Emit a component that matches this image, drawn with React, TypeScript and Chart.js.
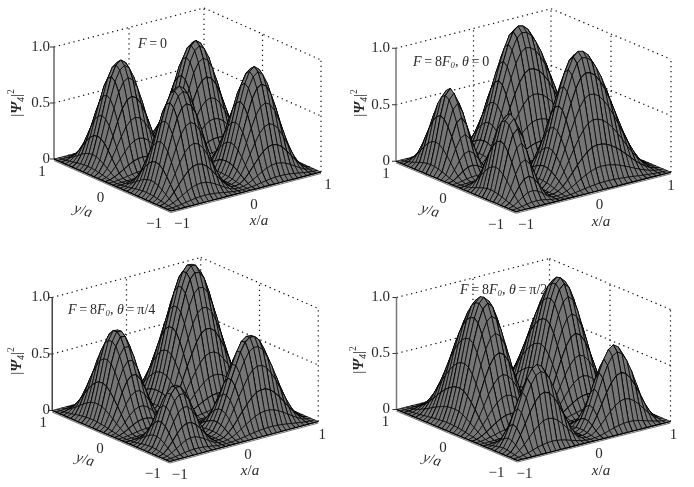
import React, { useEffect, useRef } from "react";
import { Chart, registerables } from "chart.js";

Chart.register(...registerables);

const symmetricLow = [0, 0.04, 0.14, 0.3, 0.48, 0.66, 0.82, 0.92, 0.955, 0.92, 0.82, 0.66, 0.48, 0.3, 0.14, 0.04, 0.01, 0.04, 0.14, 0.3, 0.48, 0.66, 0.82, 0.92, 0.955, 0.92, 0.82, 0.66, 0.48, 0.3, 0.14, 0.04, 0];
const symmetricUnit = [0, 0.04, 0.15, 0.31, 0.5, 0.69, 0.85, 0.96, 1, 0.96, 0.85, 0.69, 0.5, 0.31, 0.15, 0.04, 0.01, 0.04, 0.15, 0.31, 0.5, 0.69, 0.85, 0.96, 1, 0.96, 0.85, 0.69, 0.5, 0.31, 0.15, 0.04, 0];
const shiftedAlongField = [0, 0.07, 0.26, 0.48, 0.65, 0.7, 0.6, 0.4, 0.175, 0.03, 0.01, 0.06, 0.16, 0.31, 0.48, 0.66, 0.82, 0.96, 1.06, 1.1, 1.09, 1.05, 0.975, 0.88, 0.76, 0.63, 0.49, 0.36, 0.245, 0.145, 0.065, 0.02, 0];
const shiftedDiagonal = [0, 0.04, 0.16, 0.32, 0.5, 0.64, 0.71, 0.705, 0.61, 0.46, 0.29, 0.13, 0.03, 0.01, 0.04, 0.135, 0.27, 0.44, 0.62, 0.78, 0.93, 1.04, 1.085, 1.08, 1.02, 0.9, 0.755, 0.58, 0.41, 0.245, 0.11, 0.03, 0];

const axisTicksZ = [0, 0.5, 1];
const axisTicksXY = [-1, 0, 1];
const zTickLabels = ["0", "0.5", "1.0"];
const xyTickLabels = ["\u22121", "0", "1"];

type Run = { t: string; i?: boolean; b?: boolean; sub?: boolean; sup?: boolean; };

const ylabelRuns: Run[] = [{ t: "|" }, { t: "\u03a8", i: true, b: true }, { t: "4", i: true, sub: true }, { t: "|" }, { t: "2", sup: true }];
const yaRuns: Run[] = [{ t: "y", i: true }, { t: "/" }, { t: "a", i: true }];
const xaRuns: Run[] = [{ t: "x", i: true }, { t: "/" }, { t: "a", i: true }];
const EQ = "\u2009=\u2009";

const panels = [
  {
    left: 0, top: 0, w: 347, h: 243,
    xProfile: symmetricLow, yProfile: symmetricLow,
    pose: { cx: 187.5, ax: 75, bx: -58.5, cy: 165.5, ay: -19.5, by: -26, zs: 112 },
    title: [{ t: "F", i: true }, { t: EQ + "0" }] as Run[], titleAt: [138, 44],
    zLabelX: 50, yLabelX: 17, yLabelY: 103, yaAt: [83, 211], xaAt: [259, 221],
    xTickDx: [11, 8, 7], yTickDx: [-17, -12, -12],
    axisColor: "#666",
  },
  {
    left: 347, top: 0, w: 347, h: 243,
    xProfile: shiftedAlongField, yProfile: symmetricUnit,
    pose: { cx: 533.5, ax: 77.5, bx: -60, cy: 166.75, ay: -19.75, by: -25.25, zs: 113 },
    title: [{ t: "F", i: true }, { t: EQ + "8" }, { t: "F", i: true }, { t: "0", i: true, sub: true }, { t: ", " }, { t: "\u03b8", i: true }, { t: EQ + "0" }] as Run[], titleAt: [413, 62],
    zLabelX: 390, yLabelX: 360, yLabelY: 103, yaAt: [430, 211], xaAt: [601, 222],
    xTickDx: [10, 6, 0], yTickDx: [-20, -13, -10],
    axisColor: "#777",
  },
  {
    left: 0, top: 243, w: 347, h: 244,
    xProfile: shiftedDiagonal, yProfile: shiftedDiagonal,
    pose: { cx: 185.25, ax: 74.25, bx: -58.75, cy: 416, ay: -20, by: -25.5, zs: 113 },
    title: [{ t: "F", i: true }, { t: EQ + "8" }, { t: "F", i: true }, { t: "0", i: true, sub: true }, { t: ", " }, { t: "\u03b8", i: true }, { t: EQ + "\u03c0/4" }] as Run[], titleAt: [68, 310],
    zLabelX: 50, yLabelX: 17, yLabelY: 361, yaAt: [85, 460], xaAt: [250, 471],
    xTickDx: [10, 4, 4], yTickDx: [-17, -11, -9],
    axisColor: "#444",
  },
  {
    left: 347, top: 243, w: 347, h: 244,
    xProfile: symmetricUnit, yProfile: shiftedAlongField,
    pose: { cx: 533.5, ax: 76.5, bx: -60.5, cy: 415.5, ay: -19.5, by: -25.5, zs: 112 },
    title: [{ t: "F", i: true }, { t: EQ + "8" }, { t: "F", i: true }, { t: "0", i: true, sub: true }, { t: ", " }, { t: "\u03b8", i: true }, { t: EQ + "\u03c0/2" }] as Run[], titleAt: [460, 290],
    zLabelX: 390, yLabelX: 359, yLabelY: 360, yaAt: [432, 460], xaAt: [601, 471],
    xTickDx: [7, 5, 3], yTickDx: [-21, -14, -11],
    axisColor: "#777",
  },
];

type PanelCfg = (typeof panels)[number];

const FONT = "'Liberation Serif'";
const MESH_FILL = "#767676";
const MESH_LINE = "rgba(0,0,0,0.85)";
const BOLD_EVERY = 3;

function project(p: PanelCfg["pose"], x: number, y: number, z: number) {
  return { x: p.cx + p.ax * x + p.bx * y, y: p.cy + p.ay * x + p.by * y - p.zs * z };
}

function wire(data: { x: number; y: number }[], color: string, width: number, dash: number[] = []) {
  return { data, showLine: true, fill: false, borderColor: color, borderWidth: width, borderDash: dash, pointRadius: 0, clip: false };
}

function buildDatasets(cfg: PanelCfg) {
  const p = cfg.pose;
  const paint: any[] = [];
  const dotted = (a: number[], b: number[]) =>
    paint.push(wire([project(p, a[0], a[1], a[2]), project(p, b[0], b[1], b[2])], "#111", 1.2, [1.3, 3.7]));

  for (const z of [0.5, 1]) {
    dotted([-1, 1, z], [1, 1, z]);
    dotted([1, 1, z], [1, -1, z]);
  }
  dotted([0, 1, 0], [0, 1, 1]);
  dotted([1, 1, 0], [1, 1, 1]);
  dotted([1, 0, 0], [1, 0, 1]);
  dotted([1, -1, 0], [1, -1, 1]);

  paint.push(wire([project(p, -1, 1, 0), project(p, -1, 1, 1)], cfg.axisColor, 1.5));
  for (const z of axisTicksZ) {
    const q = project(p, -1, 1, z);
    paint.push(wire([q, { x: q.x - 4, y: q.y }], "#333", 1));
  }
  const edge = (a: number[], b: number[]) => {
    const s = project(p, a[0], a[1], 0), e = project(p, b[0], b[1], 0);
    paint.push(wire([{ x: s.x, y: s.y + 1.5 }, { x: e.x, y: e.y + 1.5 }], "#777", 1.2));
  };
  edge([-1, 1], [-1, -1]);
  edge([-1, -1], [1, -1]);

  const n = cfg.xProfile.length;
  const X = (i: number) => -1 + (2 * i) / (n - 1);
  const pt = (i: number, j: number) => project(p, X(i), X(j), cfg.xProfile[i] * cfg.yProfile[j]);
  for (let i = n - 2; i >= 0; i--) {
    for (let j = n - 2; j >= 0; j--) {
      const a = pt(i, j), b = pt(i + 1, j), c = pt(i + 1, j + 1), d = pt(i, j + 1);
      paint.push({
        data: [a, b, c, d, a], showLine: true, fill: "shape", backgroundColor: MESH_FILL,
        borderColor: MESH_LINE, borderWidth: 0.85, pointRadius: 0, clip: false,
      });
      if (j % BOLD_EVERY === 0) paint.push(wire([a, b], "#000", 1.2));
      if (i % BOLD_EVERY === 0) paint.push(wire([a, d], "#000", 1.1));
    }
  }
  return paint.reverse();
}

function drawRuns(ctx: CanvasRenderingContext2D, runs: Run[], x: number, y: number, size: number) {
  let cx = x;
  for (const r of runs) {
    const small = r.sub || r.sup;
    const fs = small ? size * 0.62 : size;
    ctx.font = `${r.i ? "italic " : ""}${r.b ? "bold " : ""}${fs}px ${FONT}`;
    const dy = r.sub ? size * 0.3 : r.sup ? -size * 0.38 : 0;
    ctx.fillText(r.t, cx, y + dy);
    cx += ctx.measureText(r.t).width;
  }
  return cx - x;
}

function makeLabelPlugin(cfg: PanelCfg) {
  return {
    id: "panelLabels",
    afterDraw(chart: any) {
      const { ctx, scales } = chart;
      const px = (v: number) => scales.x.getPixelForValue(v);
      const py = (v: number) => scales.y.getPixelForValue(v);
      const p = cfg.pose;
      ctx.save();
      ctx.fillStyle = "#2a2a2a";
      ctx.textBaseline = "middle";
      ctx.font = `15px ${FONT}`;
      ctx.textAlign = "right";
      axisTicksZ.forEach((z, k) => {
        const q = project(p, -1, 1, z);
        ctx.fillText(zTickLabels[k], px(cfg.zLabelX), py(q.y));
      });
      ctx.textAlign = "center";
      axisTicksXY.forEach((v, k) => {
        const qy = project(p, -1, v, 0);
        ctx.fillText(xyTickLabels[k], px(qy.x + cfg.yTickDx[k]), py(qy.y + 13));
        const qx = project(p, v, -1, 0);
        ctx.fillText(xyTickLabels[k], px(qx.x + cfg.xTickDx[k]), py(qx.y + 13.5));
      });
      ctx.textAlign = "left";
      drawRuns(ctx, cfg.title, px(cfg.titleAt[0]), py(cfg.titleAt[1]), 14);

      const centred = (runs: Run[], at: number[], angle: number, size: number) => {
        ctx.save();
        ctx.translate(px(at[0]), py(at[1]));
        ctx.rotate(angle);
        ctx.globalAlpha = 0;
        const w = drawRuns(ctx, runs, 0, 0, size);
        ctx.globalAlpha = 1;
        drawRuns(ctx, runs, -w / 2, 0, size);
        ctx.restore();
      };
      centred(ylabelRuns, [cfg.yLabelX, cfg.yLabelY], -Math.PI / 2, 15);
      centred(yaRuns, cfg.yaAt, 0.3, 15);
      centred(xaRuns, cfg.xaAt, 0, 15);
      ctx.restore();
    },
  };
}

function Panel({ cfg }: { cfg: PanelCfg }) {
  const ref = useRef<HTMLCanvasElement>(null);
  useEffect(() => {
    const chart = new Chart(ref.current as HTMLCanvasElement, {
      type: "scatter",
      data: { datasets: buildDatasets(cfg) },
      options: {
        animation: false,
        responsive: false,
        events: [],
        layout: { padding: 0 },
        plugins: { legend: { display: false }, tooltip: { enabled: false } },
        scales: {
          x: { type: "linear", display: false, min: cfg.left, max: cfg.left + cfg.w },
          y: { type: "linear", display: false, reverse: true, min: cfg.top, max: cfg.top + cfg.h },
        },
      },
      plugins: [makeLabelPlugin(cfg)],
    } as any);
    return () => chart.destroy();
  }, [cfg]);
  return (
    <canvas
      ref={ref}
      width={cfg.w}
      height={cfg.h}
      style={{ position: "absolute", left: cfg.left, top: cfg.top, width: cfg.w, height: cfg.h }}
    />
  );
}

export default function App() {
  return (
    <div style={{ position: "absolute", left: 0, top: 0, width: 694, height: 487, background: "#fff", overflow: "hidden" }}>
      {panels.map((cfg, i) => (
        <Panel key={i} cfg={cfg} />
      ))}
    </div>
  );
}
